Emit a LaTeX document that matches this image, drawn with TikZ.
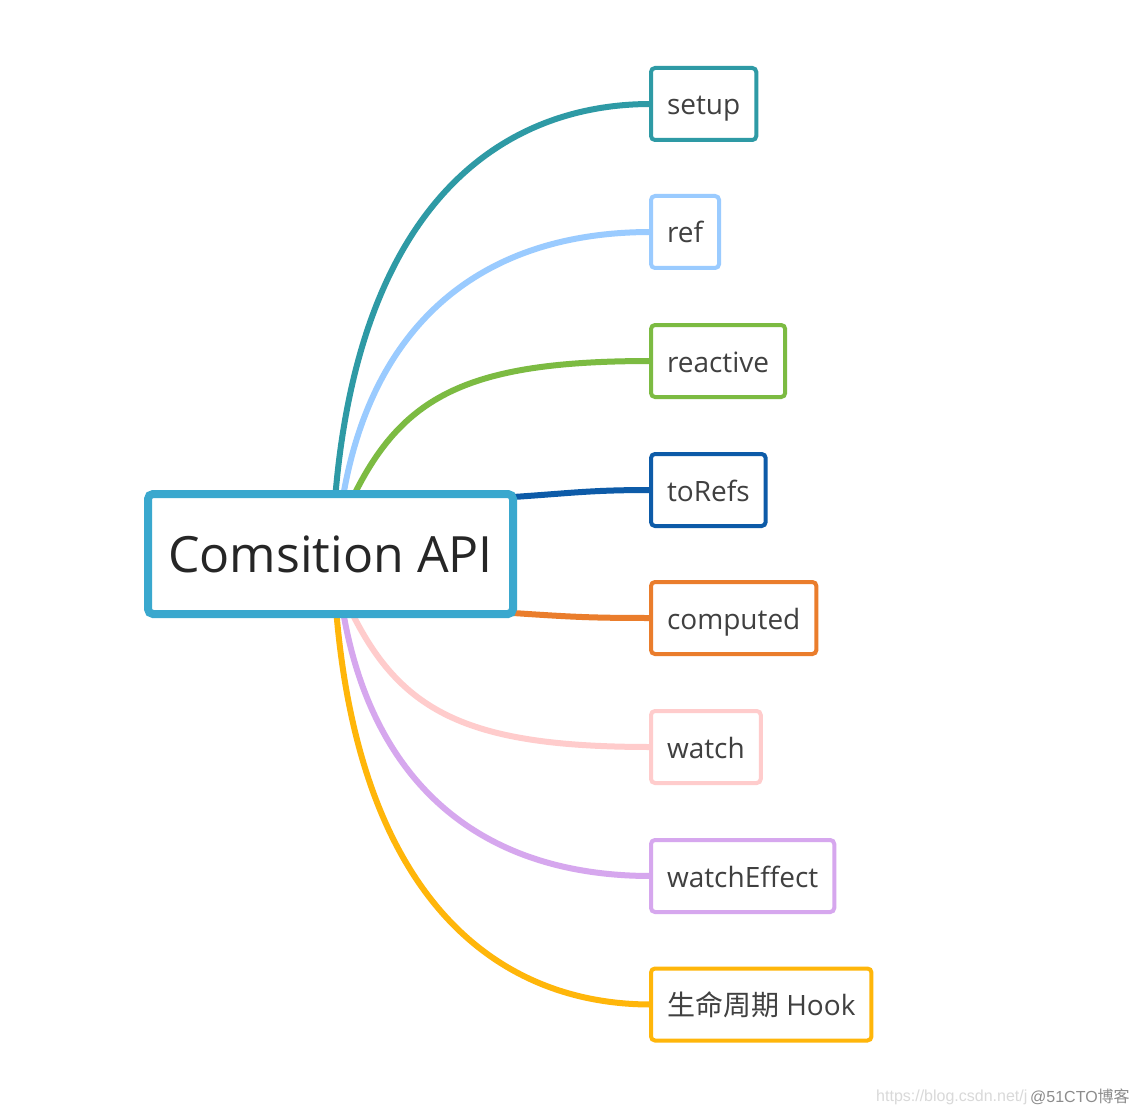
\documentclass[tikz,border=0pt]{standalone}
\usepackage{fontspec}
\setmainfont{Open Sans}
\newfontfamily\cjk{Noto Sans CJK SC}
\newfontfamily\wmfont{Liberation Sans}
\usetikzlibrary{calc,backgrounds}

\definecolor{capiblue}{HTML}{3AA8CE}
\definecolor{csetup}{HTML}{2E9AA5}
\definecolor{cref}{HTML}{9ACBFF}
\definecolor{creactive}{HTML}{7CBB42}
\definecolor{ctorefs}{HTML}{0D5BA8}
\definecolor{ccomputed}{HTML}{EA7D2C}
\definecolor{cwatch}{HTML}{FFCCCC}
\definecolor{cwatcheffect}{HTML}{D6A7EE}
\definecolor{chook}{HTML}{FFB60A}
\definecolor{textgray}{HTML}{404040}

\begin{document}
\begin{tikzpicture}[x=1pt,y=-1pt,
    leafbox/.style={draw, line width=4pt, rounded corners=4pt, fill=white,
        anchor=west, outer sep=0pt, inner xsep=16pt, minimum height=72pt,
        text height=22pt, text depth=0pt,
        text=textgray, font=\fontsize{28}{34}\selectfont},
    branch/.style={line width=6pt}]

    % Размер картинки
    \useasboundingbox (0,0) rectangle (1137,1115);

    % Центральный узел
    \node[draw=capiblue, line width=8pt, rounded corners=5pt, fill=white,
        minimum width=365pt, minimum height=120pt, outer sep=0pt, inner sep=0pt,
        text=black!85, font=\fontsize{50}{60}\selectfont] (capi) at (330.5,554) {Comsition API};

    % Ветви
    \foreach \name/\label/\col/\y in {
        setup/setup/csetup/104, ref/ref/cref/232, reactive/reactive/creactive/361,
        torefs/toRefs/ctorefs/490, computed/computed/ccomputed/618,
        watch/watch/cwatch/747, watcheffect/watchEffect/cwatcheffect/876}
    {
        \node[leafbox, draw=\col] (\name) at (651,\y) {\label};
    }
    \node[leafbox, draw=chook] (hook) at (651,1004.5) {{\cjk 生命周期} Hook};

    % Линии
    \begin{scope}[on background layer]
        \fill[white] (0,0) rectangle (1137,1115);
        \draw[branch, csetup] ($(capi.north)+(5,0)$) .. controls +(25,-290) and +(-150,0) .. (setup.west);
        \draw[branch, cref] ($(capi.north)+(13,0)$) .. controls +(30,-170) and +(-170,0) .. (ref.west);
        \draw[branch, creactive] ($(capi.north)+(24,0)$) .. controls +(50,-100) and +(-180,0) .. (reactive.west);
        \draw[branch, ctorefs] ($(capi.north east)+(0,3)$) .. controls +(60,-4) and +(-60,0) .. (torefs.west);
        \draw[branch, ccomputed] ($(capi.south east)+(0,-1)$) .. controls +(60,4) and +(-60,0) .. (computed.west);
        \draw[branch, cwatch] ($(capi.south)+(22,0)$) .. controls +(50,100) and +(-180,0) .. (watch.west);
        \draw[branch, cwatcheffect] ($(capi.south)+(13,0)$) .. controls +(30,170) and +(-170,0) .. (watcheffect.west);
        \draw[branch, chook] ($(capi.south)+(6,0)$) .. controls +(25,290) and +(-150,0) .. (hook.west);
    \end{scope}

    % Водяной знак
    \node[anchor=west, inner sep=0pt, text=black!15, font=\wmfont\fontsize{16}{19}\selectfont] (wmurl) at (876,1097) {https://blog.csdn.net/j};
    \node[anchor=west, inner sep=0pt, text=black!45, font=\wmfont\fontsize{16}{19}\selectfont] (wmsite) at (1030,1097) {@51CTO{\cjk 博客}};
\end{tikzpicture}
\end{document}
